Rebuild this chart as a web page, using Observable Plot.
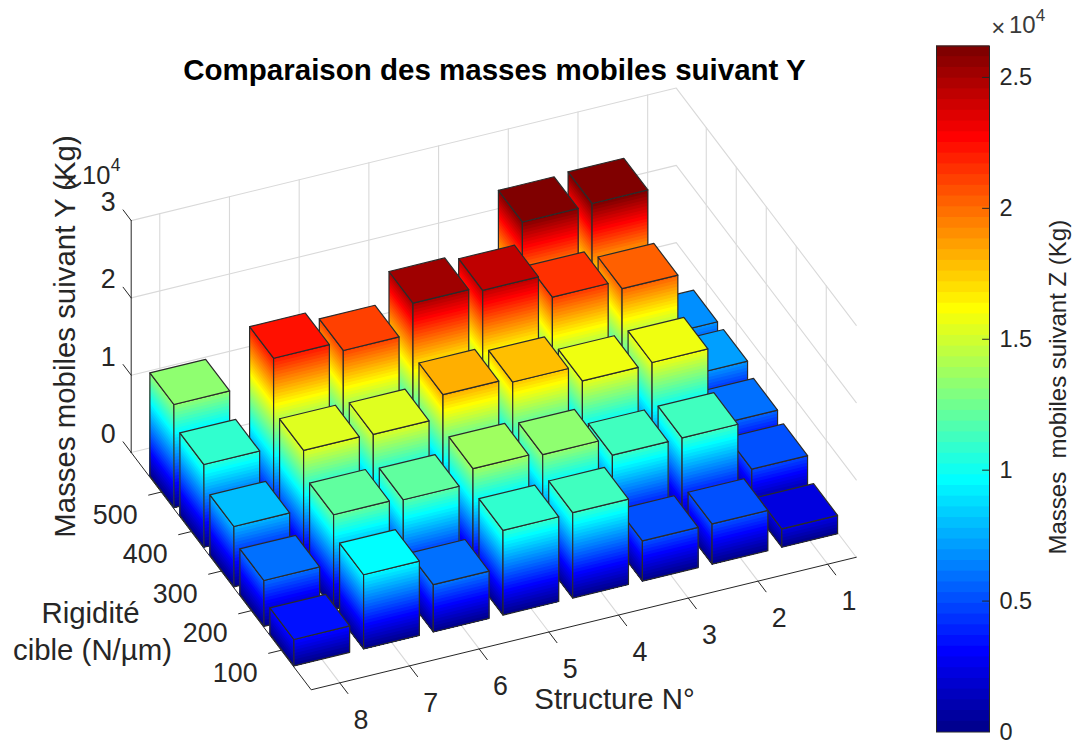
<!DOCTYPE html>
<html><head><meta charset="utf-8">
<script src="https://cdn.jsdelivr.net/npm/d3@7"></script>
<script src="https://cdn.jsdelivr.net/npm/@observablehq/plot@0.6"></script>
<style>
html,body{margin:0;padding:0;background:#fff}
#chart{position:relative;width:1072px;height:742px;overflow:hidden}
#chart svg{position:absolute;top:0;background:transparent;overflow:visible}
#chart svg text{white-space:pre}
</style></head><body><div id="chart"></div>
<script>
const structures = [1,2,3,4,5,6,7,8];
const rigidities = [100,200,300,400,500];
const massR100 = [2380, 5210, 5200, 11060, 10960, 6120, 9600, 3415];
const massR200 = [4990, 11230, 11180, 13450, 13830, 11990, 12250, 5930];
const massR300 = [5760, 15860, 15670, 17720, 18280, 15330, 15450, 7800];
const massR400 = [6970, 20300, 21400, 24460, 25000, 21070, 22260, 10700];
const massR500 = [6950, 26200, 26000, null, null, null, null, 13350];
const massRows = [massR100, massR200, massR300, massR400, massR500];
const zTicks = [0,10000,20000,30000];
const cbTicks = [0,5000,10000,15000,20000,25000];
const zMax = 26200;

// MATLAB-like 3-D view: orthographic projection of (structure, rigidity, mass)
const sHi = 8.41, sLo = 0.59, rLo = 0, rHi = 600, zTop = 30000;
function project(s, r, z){
  const u = sHi - s, v = r/100;
  return [310.7 + u*69.7 - v*30, 689.3 - u*16.95 - v*39.55 - z*77.3/10000];
}
const FONT = "'Liberation Sans', Arial, sans-serif", INK = "#262626";

function jet(i){
  const x = (i+1)/64, c = t => Math.round(255*Math.max(0,Math.min(1,t)));
  return `rgb(${c(Math.min(4*x-1.5,-4*x+4.5))},${c(Math.min(4*x-0.5,-4*x+3.5))},${c(Math.min(4*x+0.5,-4*x+2.5))})`;
}
const bandOf = v => Math.min(63, Math.floor(v/zMax*64));

// Bars: painter's order, each side face is a nest of shrinking colour bands
const rows = []; let pid = 0;
function poly(pts, fill, stroke){
  const id = pid++;
  for (const p of pts){ rows.push({id, x:p[0], y:p[1], fill, stroke}); }
}
function shadedFace(a, b, Z){
  const k = bandOf(Z);
  for (let i=k;i>=0;i--){
    const zi = i===k ? Z : (i+1)/64*zMax;
    poly([project(a[0],a[1],0),project(b[0],b[1],0),project(b[0],b[1],zi),project(a[0],a[1],zi)], jet(i), "none");
  }
  const o=[project(a[0],a[1],0),project(b[0],b[1],0),project(b[0],b[1],Z),project(a[0],a[1],Z)];
  poly([...o,o[0]], "none", "#2b2b2b");
}
const hw = 0.4, hr = 40;
for (let j=rigidities.length-1;j>=0;j--){
  for (let i=0;i<structures.length;i++){
    const Z = massRows[j][i];
    if (Z==null) continue;
    const s=structures[i], r=rigidities[j];
    shadedFace([s+hw,r+hr],[s+hw,r-hr],Z);
    shadedFace([s+hw,r-hr],[s-hw,r-hr],Z);
    const t=[[s+hw,r+hr],[s+hw,r-hr],[s-hw,r-hr],[s-hw,r+hr]].map(c=>project(c[0],c[1],Z));
    poly([...t,t[0]], jet(bandOf(Z)), "#2b2b2b");
  }
}

// Grid
const grid=[]; let gid=0;
function seg(list, pts){ const id=gid++; pts.forEach(p=>list.push({id,x:p[0],y:p[1]})); }
for (const s of structures) seg(grid,[project(s,rLo,0),project(s,rHi,0),project(s,rHi,zTop)]);
for (const r of rigidities) seg(grid,[project(sHi,r,0),project(sLo,r,0),project(sLo,r,zTop)]);
for (const z of zTicks) seg(grid,[project(sHi,rHi,z),project(sLo,rHi,z),project(sLo,rLo,z)]);

// Axes
const axes=[];
seg(axes,[project(sHi,rHi,0),project(sHi,rHi,zTop)]);
seg(axes,[project(sHi,rHi,0),project(sHi,rLo,0),project(sLo,rLo,0)]);
for (const z of zTicks) seg(axes,[project(sHi,rHi,z),project(sHi,rHi+27,z)]);
for (const r of rigidities) seg(axes,[project(sHi,r,0),project(sHi+0.18,r,0)]);
for (const s of structures) seg(axes,[project(s,rLo,0),project(s,rLo-27,0)]);

const offset=(p,dx,dy)=>({x:p[0]+dx,y:p[1]+dy});
const tickLabels=[
  ...zTicks.map(z=>({...offset(project(sHi,rHi,z),-23,-18),t:String(z/10000)})),
  ...rigidities.map(r=>({...offset(project(sHi,r,0),-46,23),t:String(r)})),
  ...structures.map(s=>({...offset(project(s,rLo,0),21.3,37.6),t:String(s)}))
];
const lineOpts={x:"x",y:"y",z:"id"};
const txt={x:"x",y:"y",text:"t"};
const main=Plot.plot({
  width:1072,height:742,margin:0,
  x:{domain:[0,1072],range:[0,1072],axis:null},
  y:{domain:[0,742],range:[0,742],axis:null},
  style:{fontFamily:FONT,background:"transparent"},
  marks:[
    Plot.line(grid,{...lineOpts,stroke:"#d9d9d9",strokeWidth:1.1}),
    Plot.line(axes,{...lineOpts,stroke:INK,strokeWidth:1}),
    Plot.line(rows,{...lineOpts,fill:{value:"fill",scale:null},stroke:{value:"stroke",scale:null},strokeWidth:1.2}),
    Plot.text(tickLabels,{...txt,fontSize:26.8,fill:INK}),
    Plot.text([{x:494,y:70,t:"Comparaison des masses mobiles suivant Y"}],{...txt,fontSize:29.5,fontWeight:"bold",fill:"#000"}),
    Plot.text([{x:65.5,y:336,t:"Masses mobiles suivant Y (Kg)"}],{...txt,fontSize:29.4,rotate:-90,fill:INK}),
    Plot.text([{x:614,y:699,t:"Structure N°"}],{...txt,fontSize:29.4,fill:INK}),
    Plot.text([{x:90,y:613,t:"Rigidité"},{x:92,y:650,t:"cible (N/µm)"}],{...txt,fontSize:29.4,fill:INK}),
    Plot.text([{x:70,y:180,t:"×"},{x:95.7,y:175.5,t:"10"}],{...txt,fontSize:25.5,fill:INK}),
    Plot.text([{x:115,y:164.5,t:"4"}],{...txt,fontSize:17.5,fill:INK})
  ]
});
main.style.left="0px";
document.getElementById("chart").append(main);

// Colour bar
const bands=d3.range(63,-1,-1).map(i=>({y2:(i+1)/64*zMax,c:jet(i)}));
const cb=Plot.plot({
  width:172,height:742,marginLeft:36,marginRight:83,marginTop:45.5,marginBottom:10.5,
  x:{domain:[0,1],axis:null},
  y:{domain:[0,zMax],axis:null},
  style:{fontFamily:FONT,background:"transparent"},
  marks:[
    Plot.rect(bands,{x1:0,x2:1,y1:0,y2:"y2",fill:{value:"c",scale:null}}),
    Plot.axisY({ticks:cbTicks,anchor:"right",tickSize:0,tickPadding:10,tickFormat:d=>String(d/10000),fontSize:23.5,label:null,color:INK}),
    Plot.ruleY(cbTicks.slice(1),{x1:0.87,x2:1,stroke:INK}),
    Plot.frame({stroke:INK,strokeWidth:1}),
    Plot.text([{x:2.3,y:13170,t:"Masses  mobiles suivant Z (Kg)"}],{...txt,fontSize:24,rotate:-90,fill:INK}),
    Plot.text([{x:1.164,y:26890,t:"×"},{x:1.62,y:27000,t:"10"}],{...txt,fontSize:24,fill:"#3a3a3a"}),
    Plot.text([{x:1.96,y:27350,t:"4"}],{...txt,fontSize:17,fill:"#3a3a3a"})
  ]
});
cb.style.left="900px";
document.getElementById("chart").append(cb);
</script></body></html>
